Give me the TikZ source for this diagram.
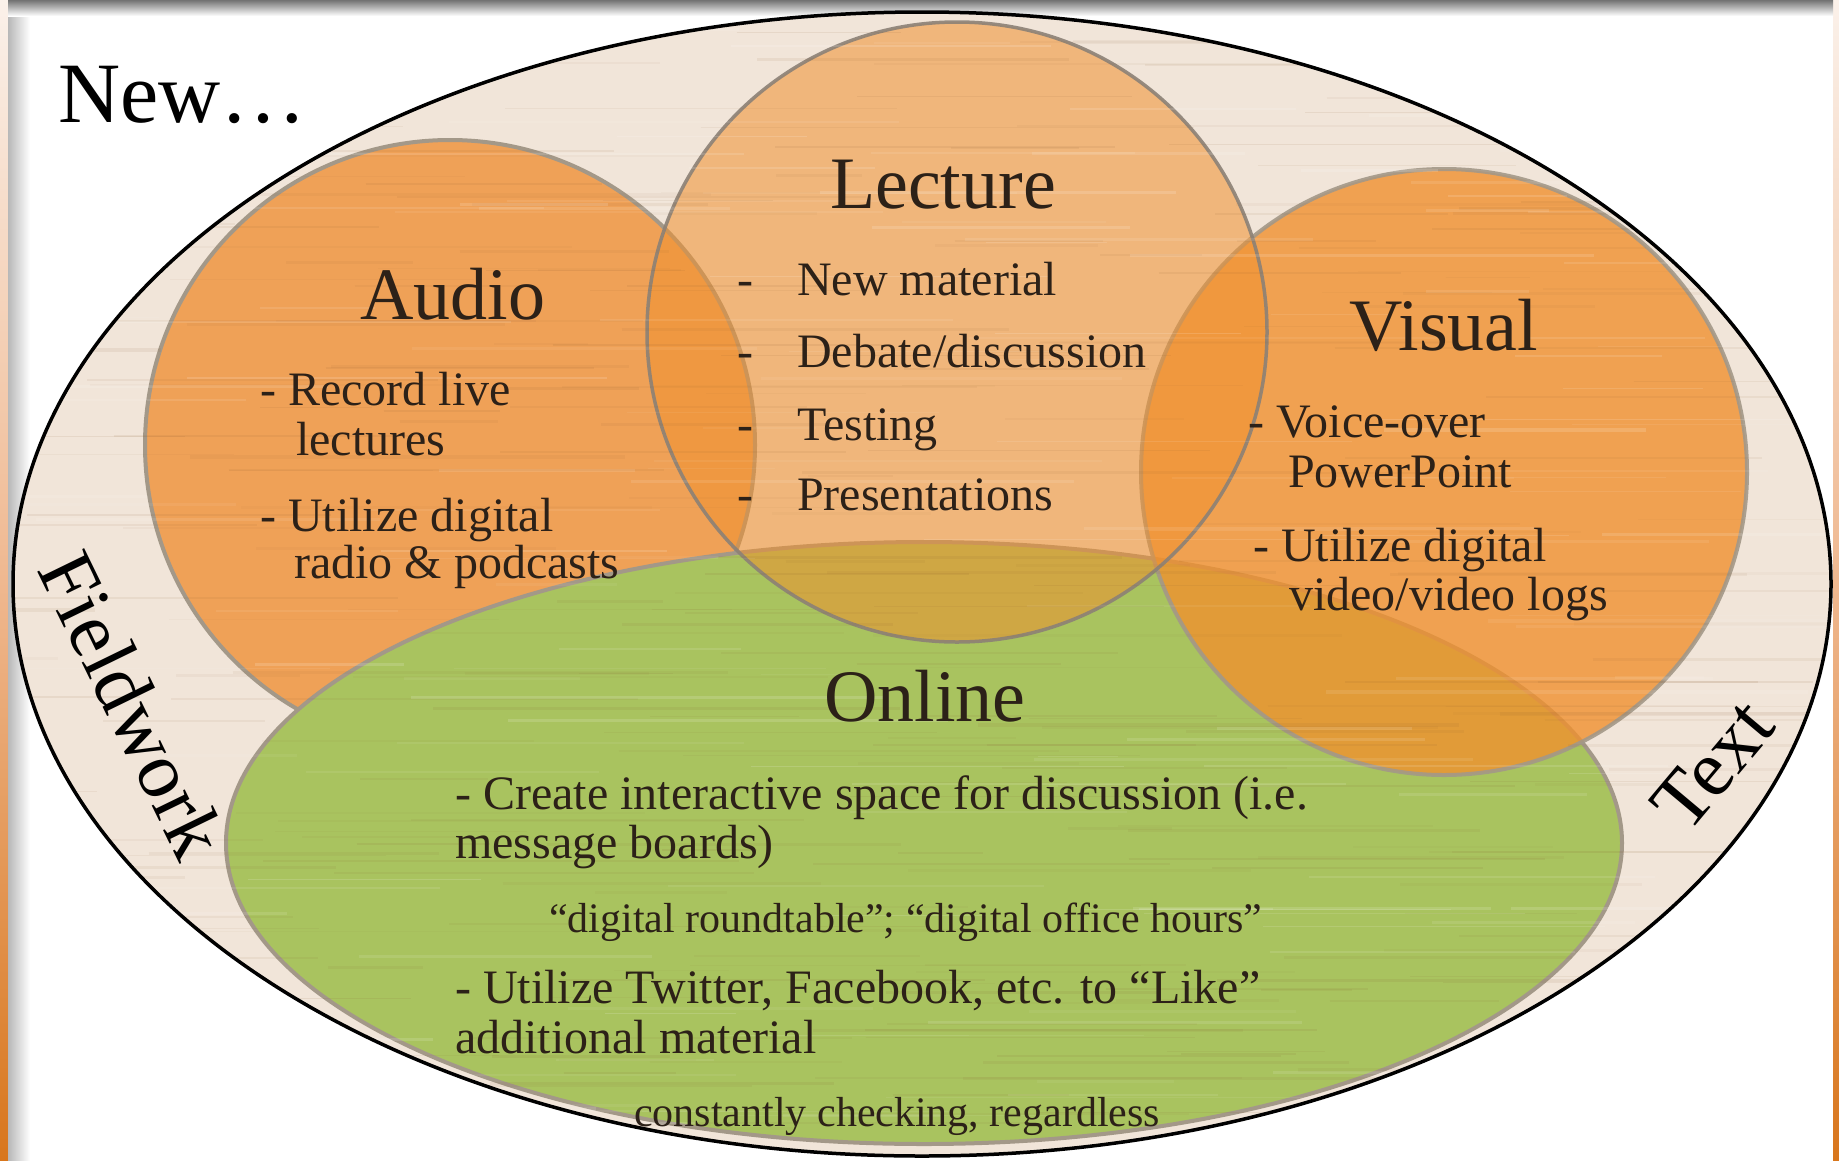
\documentclass[tikz,border=0pt]{standalone}
\usepackage{fontspec}
\setmainfont{Liberation Serif}
\usetikzlibrary{shapes.geometric}
\definecolor{ink}{HTML}{2C2118}
\definecolor{woodbeige}{HTML}{F1E5D9}
\definecolor{audiofill}{HTML}{EFA157}
\definecolor{orangefill}{HTML}{F0912F}
\definecolor{onlinefill}{HTML}{A9C35F}
\definecolor{rimgrey}{HTML}{A39888}
\definecolor{rimdark}{HTML}{8C8176}
\definecolor{stripetop}{HTML}{FBF1EA}
\definecolor{stripemid}{HTML}{EFB890}
\definecolor{stripebot}{HTML}{D8761C}
\tikzset{
  bubble/.style={inner sep=0pt, outer sep=0pt, line width=4pt, draw=rimgrey},
  title/.style={text=ink, font=\fontsize{74}{80}\selectfont, anchor=base},
  item/.style={text=ink, font=\fontsize{48}{56}\selectfont, anchor=base west, inner sep=0pt},
  subitem/.style={text=ink, font=\fontsize{42}{50}\selectfont, anchor=base west, inner sep=0pt},
  big/.style={text=black, font=\fontsize{80}{88}\selectfont, inner sep=0pt},
}
\begin{document}
\begin{tikzpicture}[x=1pt, y=-1pt]
\useasboundingbox (0,0) rectangle (1839,1160);
% slide background
\fill[white] (0,0) rectangle (1839,1160);
\shade[top color=stripetop, bottom color=stripebot, middle color=stripemid] (0,0) rectangle (8,1160);
\shade[top color=stripetop, bottom color=stripebot, middle color=stripemid] (1833,0) rectangle (1839,1160);
\shade[left color=black!28, right color=white] (8,0) rectangle (30,1160);
\shade[top color=black!55, bottom color=white] (8,0) rectangle (1833,16);

% outer frame ellipse
\node[ellipse, minimum width=1818pt, minimum height=1144pt, inner sep=0pt, fill=woodbeige] (frame) at (922,584) {};

% circles of the diagram
\node[circle, bubble, minimum size=610pt, fill=audiofill] (audio) at (450,445) {};
\node[ellipse, bubble, minimum width=1396pt, minimum height=602pt, fill=onlinefill] (online) at (924,843) {};
\node[circle, bubble, minimum size=606pt, fill=orangefill, fill opacity=0.8, draw opacity=0.9] (visual) at (1444,472) {};
\node[circle, bubble, minimum size=620pt, fill=orangefill, fill opacity=0.55, draw=rimdark, line width=3.5pt, draw opacity=0.9] (lecture) at (957,332) {};

% wood grain streaks
\begin{scope}
  \clip (922,584) ellipse [x radius=909pt, y radius=572pt];
  \pgfmathsetseed{4217}
  \foreach \k in {1,...,320}{
    \pgfmathsetmacro\yy{rnd*1160}
    \pgfmathsetmacro\xa{rnd*1839-200}
    \pgfmathsetmacro\ll{80+rnd*420}
    \pgfmathsetmacro\op{0.03+0.07*rnd}
    \pgfmathsetmacro\lw{0.8+2.6*rnd}
    \draw[line width=\lw pt, draw=brown!70!black, opacity=\op] (\xa,\yy) -- ++(\ll,0);
  }
  \foreach \k in {1,...,160}{
    \pgfmathsetmacro\yy{rnd*1160}
    \pgfmathsetmacro\xa{rnd*1839-200}
    \pgfmathsetmacro\ll{80+rnd*420}
    \pgfmathsetmacro\op{0.05+0.10*rnd}
    \pgfmathsetmacro\lw{0.8+2.6*rnd}
    \draw[line width=\lw pt, draw=white, opacity=\op] (\xa,\yy) -- ++(\ll,0);
  }
\end{scope}
\draw[line width=3.5pt, black] (frame.center) ellipse [x radius=909pt, y radius=572pt];

% headings around the ring
\node[big, anchor=base west, font=\fontsize{86}{92}\selectfont] (newhead) at (58,122) {New…};
\node[big, rotate=-64] (fieldwork) at (133,705) {Fieldwork};
\node[big, rotate=50] (textlabel) at (1713,765) {Text};

% Audio
\node[title] (audiotitle) at (453,319) {Audio};
\node[item] (a1) at (260,405) {- Record live};
\node[item] (a2) at (296,455) {lectures};
\node[item] (a3) at (260,531) {- Utilize digital};
\node[item] (a4) at (294,578) {radio \& podcasts};

% Lecture
\node[title] (lecturetitle) at (943,208) {Lecture};
\node[item] (d1) at (737,295) {-};
\node[item] (l1) at (797,295) {New material};
\node[item] (d2) at (737,367) {-};
\node[item] (l2) at (797,367) {Debate/discussion};
\node[item] (d3) at (737,440) {-};
\node[item] (l3) at (797,440) {Testing};
\node[item] (d4) at (737,510) {-};
\node[item] (l4) at (797,510) {Presentations};

% Visual
\node[title] (visualtitle) at (1444,350) {Visual};
\node[item] (v1) at (1248,437) {- Voice-over};
\node[item] (v2) at (1288,487) {PowerPoint};
\node[item] (v3) at (1253,561) {- Utilize digital};
\node[item] (v4) at (1289,610) {video/video logs};

% Online
\node[title] (onlinetitle) at (925,721) {Online};
\node[item] (o1) at (455,809) {- Create interactive space for discussion (i.e.};
\node[item] (o2) at (455,858) {message boards)};
\node[subitem] (o3) at (549,932) {“digital roundtable”; “digital office hours”};
\node[item] (o4) at (455,1003) {- Utilize Twitter, Facebook, etc. to “Like”};
\node[item] (o5) at (455,1053) {additional material};
\node[subitem] (o6) at (634,1126) {constantly checking, regardless};
\end{tikzpicture}
\end{document}
